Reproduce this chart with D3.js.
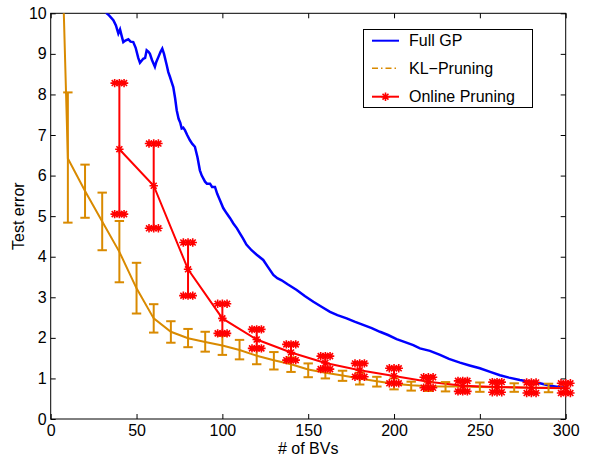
<!DOCTYPE html>
<html>
<head>
<meta charset="utf-8">
<script src="https://cdn.jsdelivr.net/npm/d3@7"></script>
<style>
  body { margin: 0; background: #fff; }
  text { font-family: "Liberation Sans", Arial, sans-serif; }
</style>
</head>
<body>
<div id="chart"></div>
<script>
// Full GP test error (dense curve)
var gpX = [30, 32.6, 34, 36.5, 38, 39.4, 40.4, 41.3, 42.3, 43.5, 45.2, 46.5, 48.1, 49.5, 51, 52, 53.9, 55, 55.9, 57, 57.8, 59, 60.7, 61.5, 62.7, 64, 65, 66, 67.6, 68.5, 69.5, 70.5, 71.4, 72.5, 73.4, 74.5, 75.5, 76.3, 77.2, 78.2, 79.5, 81.1, 82.5, 84, 85.5, 86.9, 88, 89.9, 91, 92.8, 94, 95.7, 97, 98.6, 100.5, 102.5, 104.5, 106.4, 108.5, 110.3, 112, 114, 117, 120, 123.8, 126.5, 129.7, 132, 134.5, 138, 143.3, 148, 153, 158, 162.7, 167, 172.4, 177, 182, 187, 191.8, 196.5, 201.5, 206, 211.2, 215.1, 220.9, 226.8, 232, 238.4, 244, 250, 256, 261.7, 267, 273.3, 279, 285, 291, 296.6, 300];
var gpY = [10.4, 10.0, 9.95, 9.83, 9.7, 9.5, 9.6, 9.45, 9.29, 9.33, 9.36, 9.3, 9.29, 9.15, 8.9, 8.78, 8.88, 8.9, 9.09, 9.05, 9.0, 8.85, 8.68, 8.8, 8.92, 9.05, 9.13, 9.0, 8.72, 8.55, 8.43, 8.3, 8.18, 7.9, 7.61, 7.4, 7.3, 7.16, 7.18, 7.12, 7.0, 6.87, 6.78, 6.71, 6.45, 6.13, 6.0, 5.85, 5.8, 5.8, 5.72, 5.72, 5.55, 5.39, 5.2, 5.07, 4.95, 4.82, 4.7, 4.57, 4.45, 4.3, 4.16, 4.05, 3.92, 3.75, 3.55, 3.47, 3.42, 3.32, 3.18, 3.03, 2.89, 2.76, 2.64, 2.56, 2.48, 2.4, 2.32, 2.24, 2.15, 2.07, 1.97, 1.9, 1.82, 1.74, 1.68, 1.58, 1.48, 1.39, 1.32, 1.25, 1.16, 1.08, 1.02, 0.96, 0.92, 0.88, 0.82, 0.78, 0.77];

// KL-Pruning: mean with error bars (first point has no bar)
var klX = [5, 10, 20, 30, 40, 50, 60, 70, 80, 90, 100, 110, 120, 130, 140, 150, 160, 170, 180, 190, 200, 210, 220, 230, 240, 250, 260, 270, 280, 290, 300];
var klMean = [14, 6.42, 5.62, 4.87, 4.12, 3.22, 2.48, 2.15, 1.99, 1.9, 1.81, 1.7, 1.56, 1.45, 1.35, 1.22, 1.14, 1.07, 1.0, 0.93, 0.87, 0.83, 0.81, 0.8, 0.8, 0.79, 0.78, 0.78, 0.77, 0.77, 0.76];
var klLow = [null, 4.84, 4.96, 4.16, 3.37, 2.6, 2.13, 1.88, 1.77, 1.66, 1.58, 1.47, 1.35, 1.22, 1.16, 1.03, 1.0, 0.94, 0.85, 0.8, 0.73, 0.7, 0.69, 0.68, 0.68, 0.67, 0.67, 0.67, 0.66, 0.66, 0.66];
var klHigh = [null, 8.05, 6.27, 5.58, 4.88, 3.85, 2.83, 2.41, 2.22, 2.15, 2.05, 1.95, 1.77, 1.65, 1.52, 1.37, 1.27, 1.19, 1.14, 1.04, 1.0, 0.92, 0.92, 0.91, 0.91, 0.9, 0.88, 0.88, 0.88, 0.87, 0.86];

// Online Pruning: mean with error bars
var opX = [40, 60, 80, 100, 120, 140, 160, 180, 200, 220, 240, 260, 280, 300];
var opMean = [6.65, 5.75, 3.69, 2.48, 1.96, 1.64, 1.38, 1.2, 1.06, 0.92, 0.82, 0.79, 0.77, 0.76];
var opLow = [5.05, 4.7, 3.04, 2.11, 1.74, 1.45, 1.23, 1.04, 0.88, 0.77, 0.68, 0.66, 0.64, 0.64];
var opHigh = [8.28, 6.79, 4.35, 2.84, 2.21, 1.84, 1.55, 1.37, 1.25, 1.03, 0.94, 0.91, 0.9, 0.88];

var xTicks = [0, 50, 100, 150, 200, 250, 300];
var yTicks = [0, 1, 2, 3, 4, 5, 6, 7, 8, 9, 10];
var legendLabels = ["Full GP", "KL\u2212Pruning", "Online Pruning"];

var width = 590, height = 457;
var margin = {left: 50.7, right: 24.3, top: 13.3, bottom: 38};
var blue = "#0000ff", orange = "#d98a00", red = "#ff0000";

var svg = d3.select("#chart").append("svg")
    .attr("width", width)
    .attr("height", height);

var x = d3.scaleLinear().domain([0, 300]).range([margin.left, width - margin.right]);
var y = d3.scaleLinear().domain([0, 10]).range([height - margin.bottom, margin.top]);

svg.append("defs").append("clipPath").attr("id", "plotclip")
    .append("rect")
    .attr("x", x(0)).attr("y", y(10))
    .attr("width", x(300) - x(0)).attr("height", y(0) - y(10));

// axes, MATLAB style: ticks inside on all four sides
var tickLen = 5;
svg.append("g")
    .attr("transform", "translate(0," + y(0) + ")")
    .call(d3.axisBottom(x).tickValues(xTicks).tickSize(-tickLen).tickPadding(6).tickSizeOuter(0))
    .call(g => g.select(".domain").remove())
    .selectAll("text").attr("font-size", 16).attr("fill", "#000");
svg.append("g")
    .attr("transform", "translate(0," + y(10) + ")")
    .call(d3.axisTop(x).tickValues(xTicks).tickSize(-tickLen).tickFormat("").tickSizeOuter(0))
    .call(g => g.select(".domain").remove());
svg.append("g")
    .attr("transform", "translate(" + x(0) + ",0)")
    .call(d3.axisLeft(y).tickValues(yTicks).tickSize(-tickLen).tickPadding(4).tickSizeOuter(0))
    .call(g => g.select(".domain").remove())
    .selectAll("text").attr("font-size", 16).attr("fill", "#000");
svg.append("g")
    .attr("transform", "translate(" + x(300) + ",0)")
    .call(d3.axisRight(y).tickValues(yTicks).tickSize(-tickLen).tickFormat("").tickSizeOuter(0))
    .call(g => g.select(".domain").remove());

svg.append("rect")
    .attr("x", x(0)).attr("y", y(10))
    .attr("width", x(300) - x(0)).attr("height", y(0) - y(10))
    .attr("fill", "none").attr("stroke", "#000").attr("stroke-width", 1);

var plot = svg.append("g").attr("clip-path", "url(#plotclip)");

// Full GP
var gpData = gpX.map((d, i) => [d, gpY[i]]);
plot.append("path")
    .datum(gpData)
    .attr("fill", "none").attr("stroke", blue).attr("stroke-width", 2.5)
    .attr("d", d3.line().x(d => x(d[0])).y(d => y(d[1])));

// KL-Pruning
var klData = klX.map((d, i) => ({x: d, m: klMean[i], lo: klLow[i], hi: klHigh[i]}));
plot.append("path")
    .datum(klData)
    .attr("fill", "none").attr("stroke", orange).attr("stroke-width", 2)
    .attr("d", d3.line().x(d => x(d.x)).y(d => y(d.m)));

var cap = 4.7;
var klBars = svg.append("g").attr("stroke", orange).attr("stroke-width", 2).attr("fill", "none");
klData.filter(d => d.lo != null).forEach(function (d) {
    var px = x(d.x);
    klBars.append("line").attr("x1", px).attr("x2", px).attr("y1", y(d.lo)).attr("y2", y(d.hi));
    klBars.append("line").attr("x1", px - cap).attr("x2", px + cap).attr("y1", y(d.lo)).attr("y2", y(d.lo));
    klBars.append("line").attr("x1", px - cap).attr("x2", px + cap).attr("y1", y(d.hi)).attr("y2", y(d.hi));
});

// Online Pruning
function star(r) {
    var a = r * 0.7071;
    return "M" + (-r) + ",0L" + r + ",0M0," + (-r) + "L0," + r +
        "M" + (-a) + "," + (-a) + "L" + a + "," + a +
        "M" + (-a) + "," + a + "L" + a + "," + (-a);
}
var opData = opX.map((d, i) => ({x: d, m: opMean[i], lo: opLow[i], hi: opHigh[i]}));
plot.append("path")
    .datum(opData)
    .attr("fill", "none").attr("stroke", red).attr("stroke-width", 2)
    .attr("d", d3.line().x(d => x(d.x)).y(d => y(d.m)));

var opBars = svg.append("g").attr("stroke", red).attr("stroke-width", 2).attr("fill", "none");
opData.forEach(function (d) {
    var px = x(d.x);
    opBars.append("line").attr("x1", px).attr("x2", px).attr("y1", y(d.lo)).attr("y2", y(d.hi));
    opBars.append("line").attr("x1", px - cap).attr("x2", px + cap).attr("y1", y(d.lo)).attr("y2", y(d.lo));
    opBars.append("line").attr("x1", px - cap).attr("x2", px + cap).attr("y1", y(d.hi)).attr("y2", y(d.hi));
    var pts = [[px, y(d.m)], [px, y(d.lo)], [px, y(d.hi)],
               [px - cap, y(d.lo)], [px + cap, y(d.lo)], [px - cap, y(d.hi)], [px + cap, y(d.hi)]];
    pts.forEach(function (p) {
        opBars.append("path").attr("d", star(4.2))
            .attr("transform", "translate(" + p[0] + "," + p[1] + ")")
            .attr("stroke-width", 1.6);
    });
});

// axis labels
svg.append("text")
    .attr("x", (x(0) + x(300)) / 2).attr("y", 454)
    .attr("text-anchor", "middle").attr("font-size", 16)
    .text("# of BVs");
svg.append("text")
    .attr("transform", "translate(24," + ((y(0) + y(10)) / 2) + ") rotate(-90)")
    .attr("text-anchor", "middle").attr("font-size", 16)
    .text("Test error");

// legend
var lg = svg.append("g");
lg.append("rect")
    .attr("x", 363.5).attr("y", 29.5).attr("width", 169).attr("height", 78)
    .attr("fill", "#fff").attr("stroke", "#000").attr("stroke-width", 1);
var rowsY = [40.7, 68.3, 96.7];
lg.append("line").attr("x1", 372).attr("x2", 399).attr("y1", rowsY[0]).attr("y2", rowsY[0])
    .attr("stroke", blue).attr("stroke-width", 2);
lg.append("line").attr("x1", 372).attr("x2", 399).attr("y1", rowsY[1]).attr("y2", rowsY[1])
    .attr("stroke", orange).attr("stroke-width", 1.5).attr("stroke-dasharray", "6,3,1.5,3");
lg.append("line").attr("x1", 372).attr("x2", 399).attr("y1", rowsY[2]).attr("y2", rowsY[2])
    .attr("stroke", red).attr("stroke-width", 2);
lg.append("path").attr("d", star(4.2))
    .attr("transform", "translate(385.5," + rowsY[2] + ")")
    .attr("stroke", red).attr("stroke-width", 1.6);
legendLabels.forEach(function (t, i) {
    lg.append("text").attr("x", 409).attr("y", rowsY[i] + 5.7)
        .attr("font-size", 16).text(t);
});
</script>
</body>
</html>
